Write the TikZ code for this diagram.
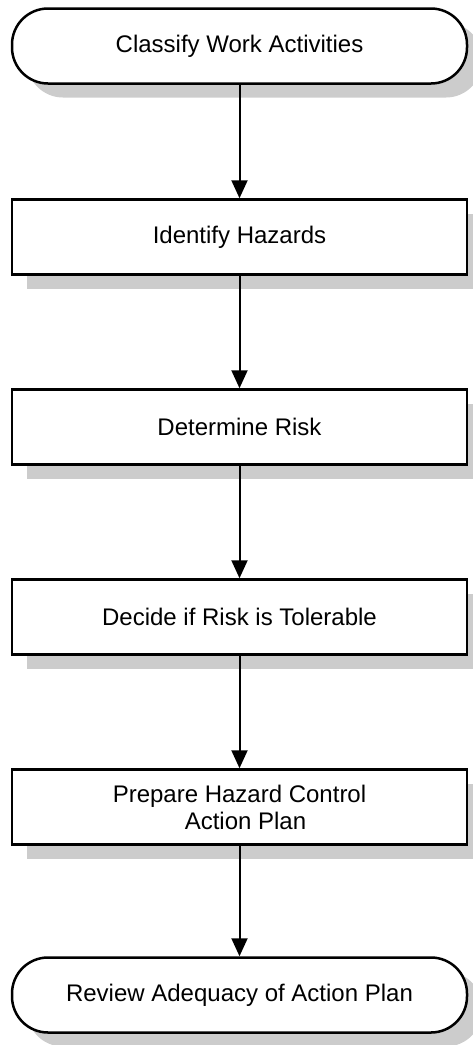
\documentclass[tikz,border=0pt]{standalone}
\usepackage{fontspec}
\setmainfont{Liberation Sans}
\usetikzlibrary{shadows,arrows.meta}

\tikzset{
  stepbox/.style={draw, line width=2.5pt, fill=white, minimum width=455pt,
    minimum height=75pt, inner sep=0pt, align=center,
    font=\fontsize{24}{27}\selectfont,
    drop shadow={shadow xshift=15pt, shadow yshift=-14pt, fill=black!20, opacity=1}},
  endbox/.style={stepbox, rounded corners=36pt},
  flow/.style={line width=2pt, -{Triangle[length=18pt,width=16pt]}}
}

\begin{document}
\begin{tikzpicture}[x=1pt, y=-1pt]
    \useasboundingbox (0,0) rectangle (472,1045);
    % the steps, top to bottom
    \node[endbox]  (classify) at (239.5,46)  {Classify Work Activities};
    \node[stepbox] (hazards)  at (239.5,237) {Identify Hazards};
    \node[stepbox] (risk)     at (239.5,427) {Determine Risk};
    \node[stepbox] (tolerable) at (239.5,617) {Decide if Risk is Tolerable};
    \node[stepbox] (plan)     at (239.5,807) {Prepare Hazard Control\\\hspace{12pt}Action Plan};
    \node[endbox]  (review)   at (239.5,995) {Review Adequacy of Action Plan};
    % arrows between them
    \draw[flow] (classify) -- (hazards);
    \draw[flow] (hazards) -- (risk);
    \draw[flow] (risk) -- (tolerable);
    \draw[flow] (tolerable) -- (plan);
    \draw[flow] (plan) -- (review);
\end{tikzpicture}
\end{document}
